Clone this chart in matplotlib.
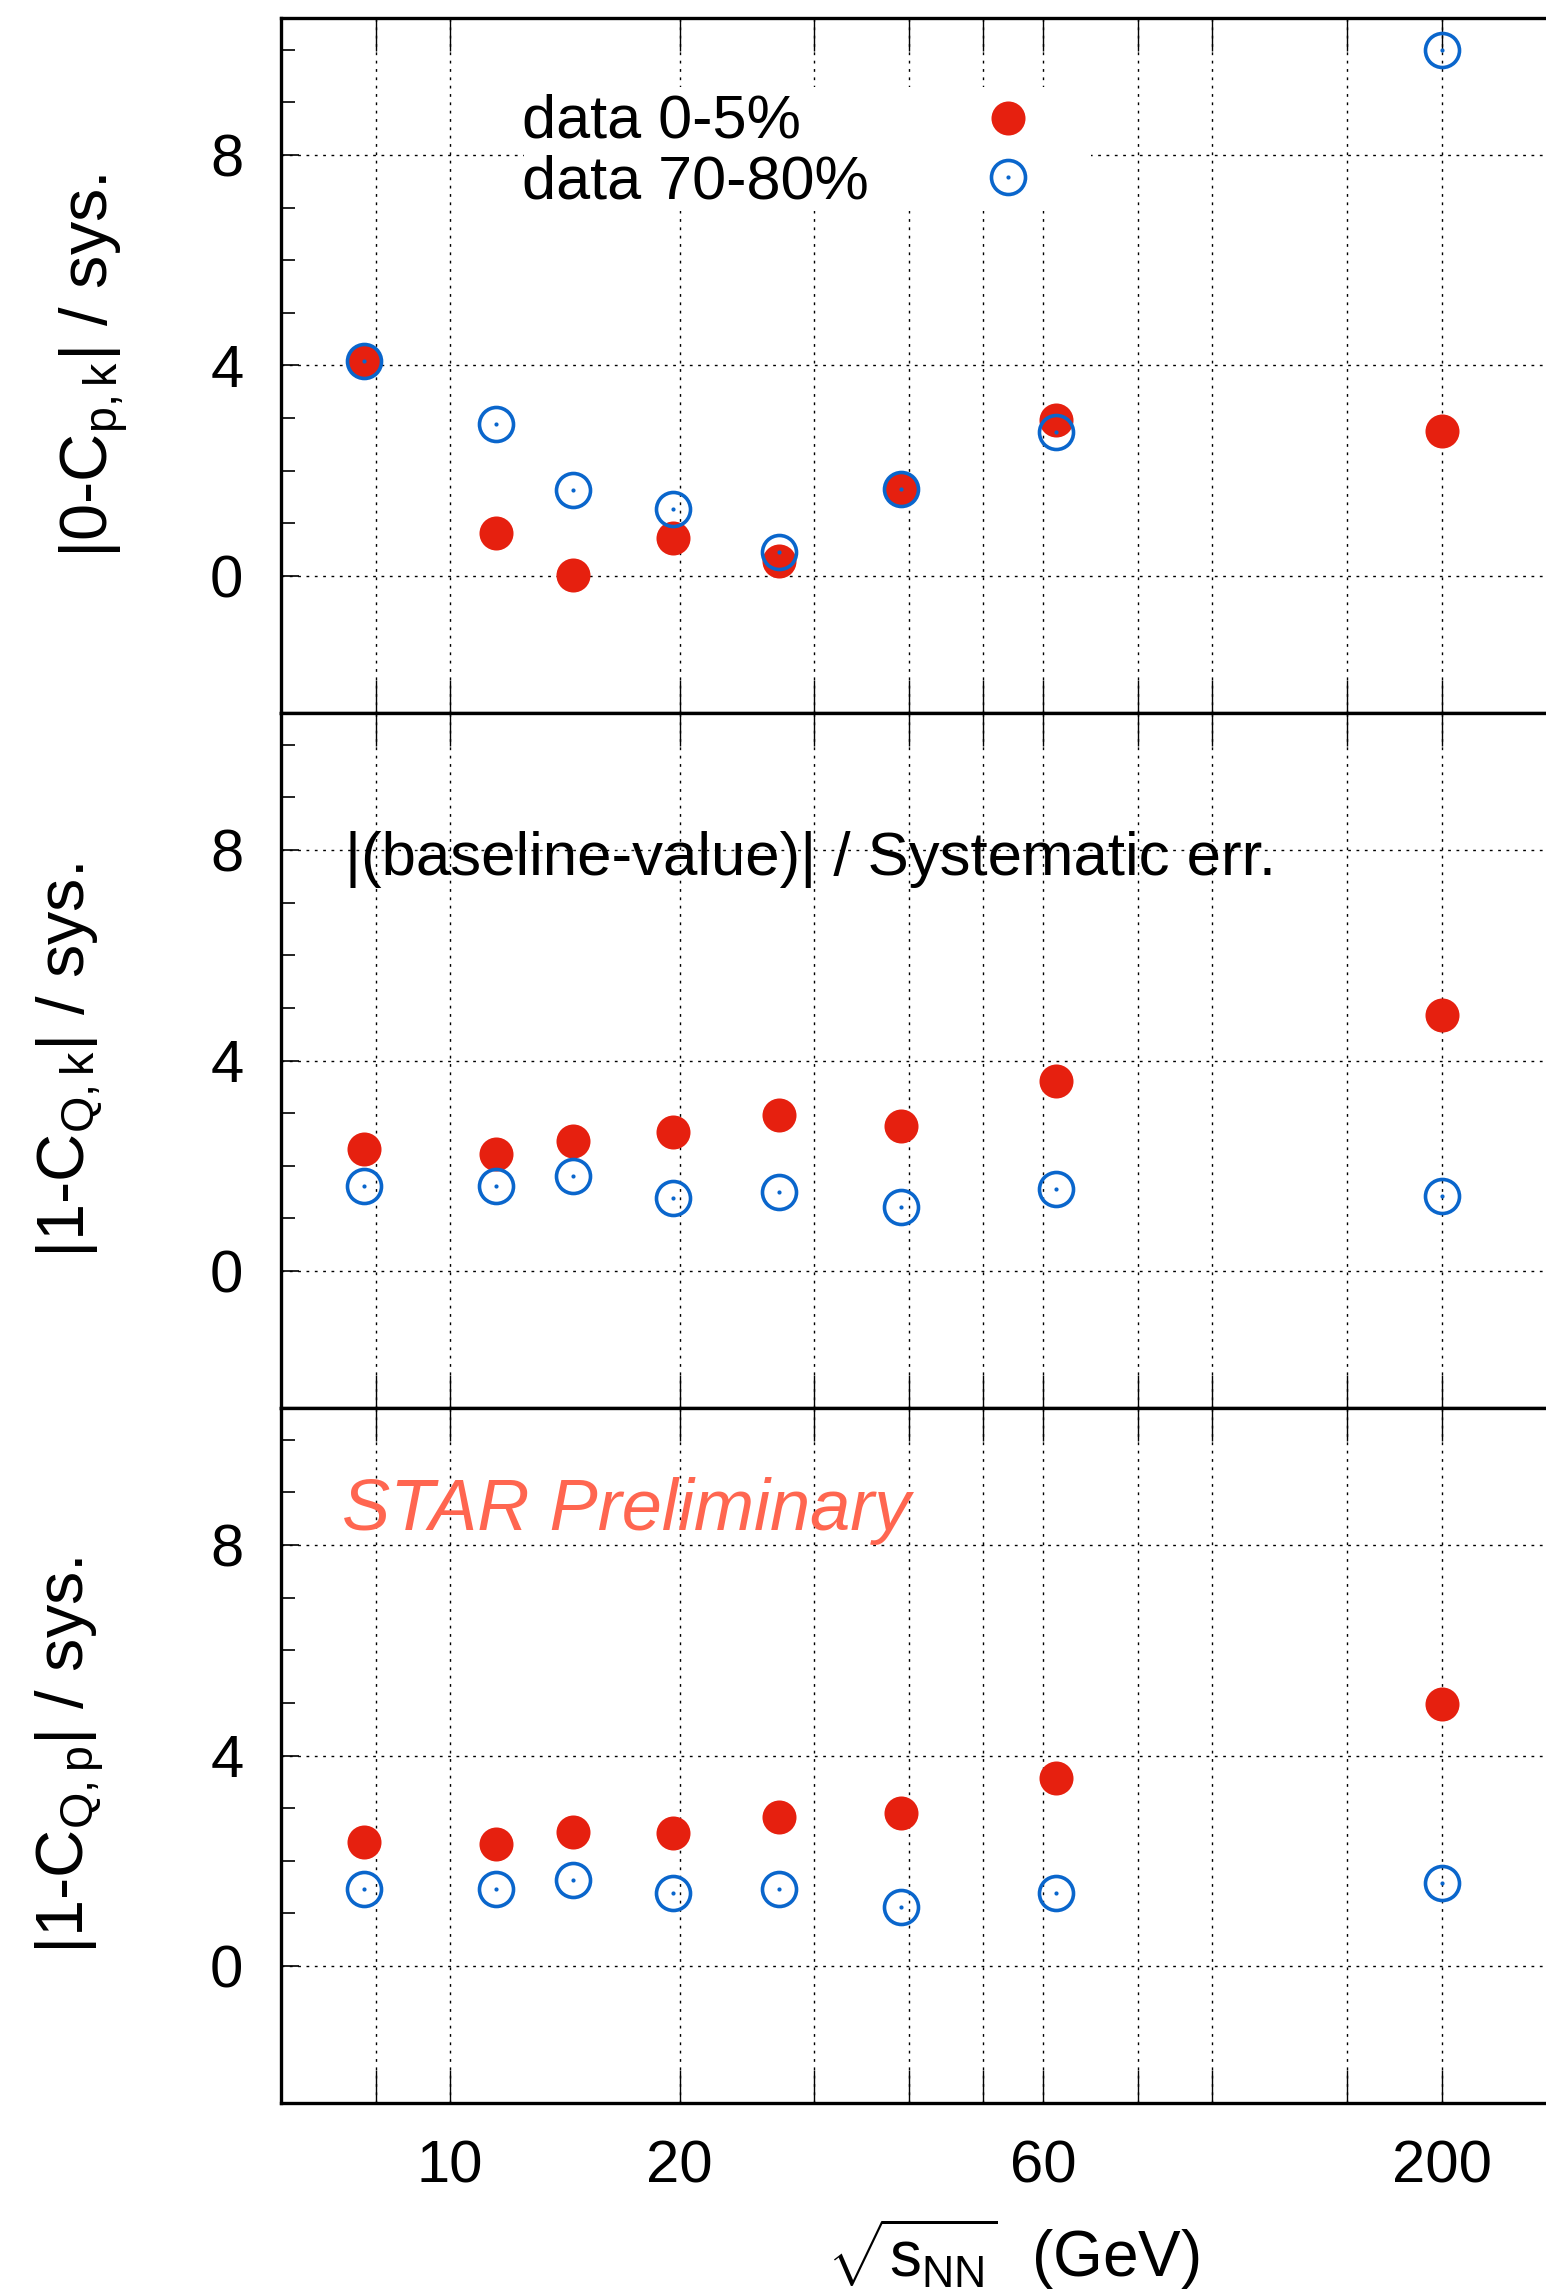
import matplotlib
matplotlib.use("Agg")
import matplotlib.pyplot as plt
from matplotlib.ticker import FixedLocator, NullLocator
from matplotlib.legend_handler import HandlerTuple
from matplotlib.patches import Rectangle

plt.rcParams['font.family'] = ['Liberation Sans', 'DejaVu Sans']
plt.rcParams['mathtext.fontset'] = 'custom'
plt.rcParams['mathtext.rm'] = 'Liberation Sans'
plt.rcParams['mathtext.it'] = 'Liberation Sans:italic'
plt.rcParams['mathtext.bf'] = 'Liberation Sans:bold'

# beam energies (GeV)
energy = [7.7, 11.5, 14.5, 19.6, 27, 39, 62.4, 200]

# |(baseline-value)| / systematic error, 0-5% and 70-80% centrality
pk_central = [4.08, 0.82, 0.02, 0.73, 0.29, 1.65, 2.96, 2.75]
pk_peripheral = [4.08, 2.89, 1.64, 1.28, 0.45, 1.65, 2.73, 10.0]
qk_central = [2.31, 2.22, 2.47, 2.64, 2.97, 2.75, 3.61, 4.86]
qk_peripheral = [1.61, 1.61, 1.81, 1.39, 1.50, 1.22, 1.56, 1.42]
qp_central = [2.35, 2.32, 2.54, 2.53, 2.84, 2.91, 3.58, 4.98]
qp_peripheral = [1.46, 1.46, 1.63, 1.38, 1.47, 1.12, 1.38, 1.57]

ylabels = [r"|0-C$_{\mathrm{p,k}}$| / sys.",
           r"|1-C$_{\mathrm{Q,k}}$| / sys.",
           r"|1-C$_{\mathrm{Q,p}}$| / sys."]
series = [(pk_central, pk_peripheral), (qk_central, qk_peripheral), (qp_central, qp_peripheral)]

xticks = [8, 10, 20, 30, 40, 50, 60, 80, 100, 150, 200]
xticklabels = ["", "10", "20", "", "", "", "60", "", "", "", "200"]
legend_labels = ["data 0-5%", "data 70-80%"]

RED = '#e6200f'
BLUE = '#0a66cc'
STAR = '#ff6650'

W, H = 1546, 2296
fig = plt.figure(figsize=(W / 100, H / 100), dpi=100)

left = 281 / W
panel_h = 695
tops = [18, 713, 1408]
ylab_x = [-0.1375, -0.1565, -0.1565]

axes = []
for i, top in enumerate(tops):
    ax = fig.add_axes([left, 1 - (top + panel_h) / H, 1 - left, panel_h / H])
    axes.append(ax)
    central, peripheral = series[i]

    red, = ax.plot(energy, central, 'o', ms=24.5, color=RED, mew=0, linestyle='none')
    ring, = ax.plot(energy, peripheral, 'o', ms=24.5, mfc='none', mec=BLUE, mew=2.6, linestyle='none')
    dot, = ax.plot(energy, peripheral, 'o', ms=3, color=BLUE, mew=0, linestyle='none')

    ax.set_xscale('log')
    ax.set_xlim(6.0, 274)
    ax.set_ylim(-2.6, 10.6)

    ax.xaxis.set_major_locator(FixedLocator(xticks))
    ax.xaxis.set_minor_locator(NullLocator())
    ax.set_xticks(xticks, labels=xticklabels if i == 2 else [""] * len(xticks))
    ax.set_yticks([0, 4, 8], labels=["0", "4", "8"])
    ax.yaxis.set_minor_locator(FixedLocator([1, 2, 3, 5, 6, 7, 9, 10]))

    ax.grid(True, which='major', color='k', linestyle=(0, (2, 4)), linewidth=1.0)
    ax.tick_params(axis='x', which='major', direction='in', length=24, width=1.0,
                   top=True, bottom=True, labelsize=43, pad=26)
    ax.tick_params(axis='y', which='major', direction='in', length=13, width=1.2,
                   left=True, right=False, labelsize=43, pad=27)
    ax.tick_params(axis='y', which='minor', direction='in', length=10, width=1.2,
                   left=True, right=False)

    for side in ['left', 'top', 'bottom']:
        ax.spines[side].set_linewidth(2.4)
    ax.spines['right'].set_visible(False)

    ax.text(ylab_x[i], 0.5, ylabels[i], transform=ax.transAxes, rotation=90,
            rotation_mode='anchor', ha='center', va='baseline', fontsize=48)

    if i == 0:
        # white box behind the legend
        ax.add_patch(Rectangle((0.192, 0.7223), 0.448, 0.1784, transform=ax.transAxes,
                               facecolor='white', edgecolor='none', zorder=1.8))
        ax.text(0.1905, 0.8278, legend_labels[0], transform=ax.transAxes,
                ha='left', va='baseline', fontsize=44, zorder=6)
        ax.text(0.1905, 0.7406, legend_labels[1], transform=ax.transAxes,
                ha='left', va='baseline', fontsize=44, zorder=6)
        ax.legend([red, (ring, dot)], ["", ""], handler_map={tuple: HandlerTuple(ndivide=1)},
                  loc='center', bbox_to_anchor=(0.5747, 0.806), borderaxespad=0,
                  frameon=False, fontsize=43, handlelength=1.0, handletextpad=0,
                  labelspacing=0.08, numpoints=1)
    elif i == 1:
        ax.text(0.0506, 7.53, "|(baseline-value)| / Systematic err.",
                transform=ax.get_yaxis_transform(), ha='left', va='baseline', fontsize=44.5)
    else:
        ax.text(0.0486, 8.29, "STAR Preliminary", transform=ax.get_yaxis_transform(),
                ha='left', va='baseline', fontsize=52, style='italic', color=STAR)
        ax.text(0.579, -0.2504, r"$\sqrt{\mathrm{s}_{\mathrm{NN}}}$  (GeV)",
                transform=ax.transAxes, ha='center', va='baseline', fontsize=46)

fig.savefig("out.png", dpi=100)
